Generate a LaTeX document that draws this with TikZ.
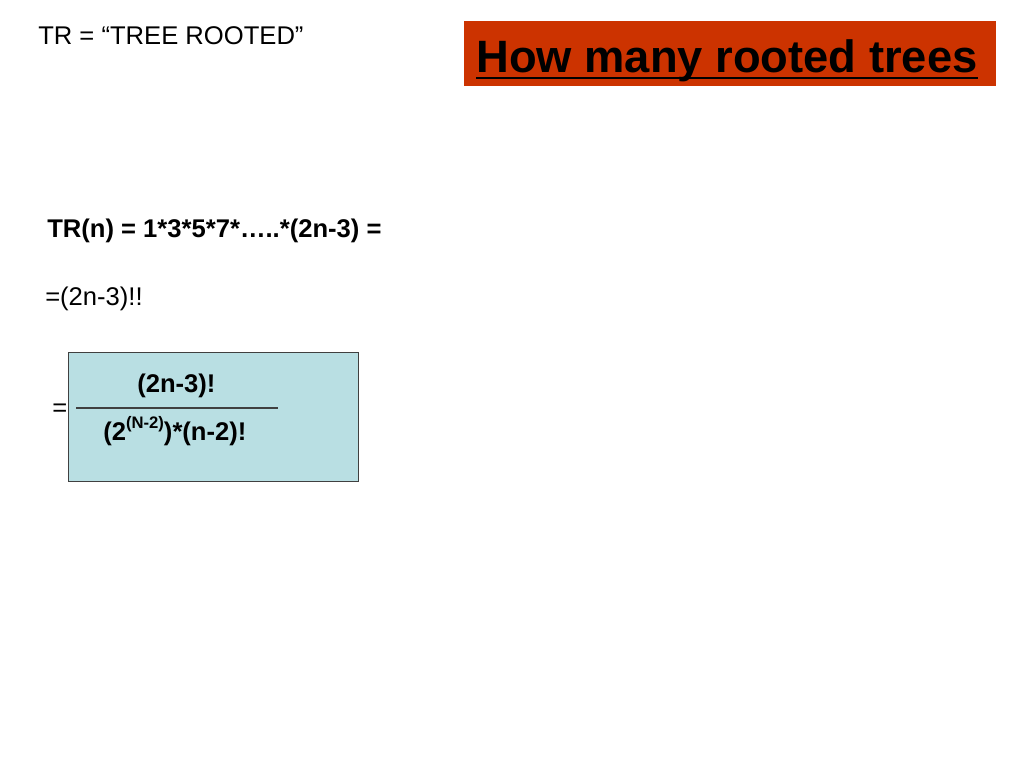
\documentclass[tikz,border=0pt]{standalone}
\usepackage{fontspec}
\setmainfont{Liberation Sans}
\usetikzlibrary{calc}
\definecolor{titlered}{HTML}{CC3300}
\definecolor{boxblue}{HTML}{B9DFE3}
\definecolor{boxedge}{HTML}{404040}
\tikzset{
  txt/.style={anchor=base west, inner sep=0pt, font=\fontsize{19.2pt}{22pt}\selectfont},
  btxt/.style={txt, font=\fontsize{19.2pt}{22pt}\selectfont\bfseries},
}
\begin{document}
\begin{tikzpicture}[x=0.75pt,y=-0.75pt]
\useasboundingbox[fill=white] (0,0) rectangle (1024,768);
% title
\node[draw=none, fill=titlered, minimum width=532*0.75pt, minimum height=65*0.75pt, anchor=north west, inner sep=0pt] (titlebox) at (464,21) {};
\node[anchor=base west, inner sep=0pt, font=\fontsize{34pt}{40pt}\selectfont\bfseries] (title) at (476,72) {How many rooted trees};
\draw[line width=2pt] ($(title.base west)+(0,6)$) -- ($(title.base east)+(0,6)$);
% top-left note
\node[txt] (note) at (38,44) {TR = “TREE ROOTED”};
% formula lines
\node[btxt] (trn) at (47,237) {TR(n) = 1*3*5*7*…..*(2n-3) =};
\node[txt] (dfact) at (45,305) {=(2n-3)!!};
% box
\node[draw=boxedge, line width=0.8pt, fill=boxblue, minimum width=290*0.75pt, minimum height=129*0.75pt, anchor=north west, inner sep=0pt] (fbox) at (68,352) {};
\node[txt] (eq) at (52,416) {=};
\coordinate (fl) at (76,408);
\coordinate (fr) at (278,408);
\draw[line width=0.8pt, boxedge] (fl) -- (fr);
\node[btxt] (num) at (137,392) {(2n-3)!};
\node[btxt] (den) at (103,440) {(2\raisebox{0.45em}{\fontsize{12.5pt}{13pt}\selectfont(N-2)})*(n-2)!};
\end{tikzpicture}
\end{document}
